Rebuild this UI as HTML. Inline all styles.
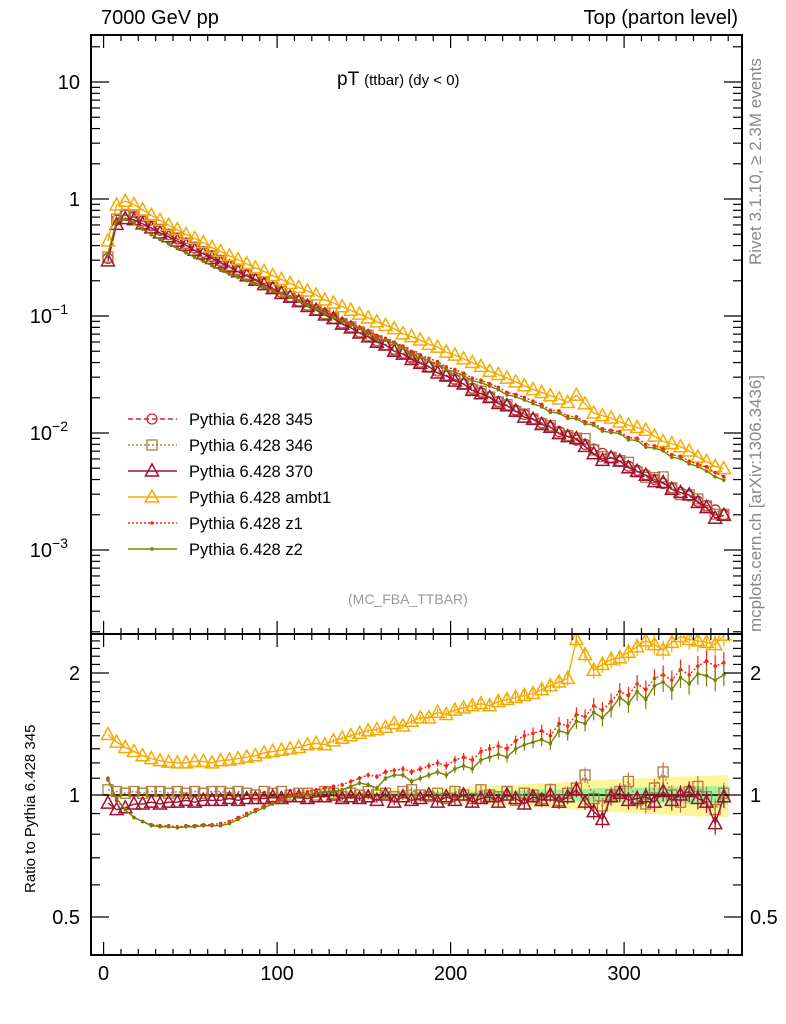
<!DOCTYPE html>
<html><head><meta charset="utf-8"><style>
body{margin:0;background:#fff;}
svg{display:block;font-family:"Liberation Sans",sans-serif;}
</style></head><body>
<svg id="c" width="786" height="1024" viewBox="0 0 786 1024" xmlns="http://www.w3.org/2000/svg"></svg>
<script>
const binCenters=[];for(let i=0;i<72;i++)binCenters.push(2.5+5*i);
const ref345=[0.31,0.66,0.73,0.70,0.645,0.59,0.54,0.495,0.455,0.415,0.38,0.35,0.32,0.293,0.268,0.246,0.225,0.206,0.189,0.173,0.159,0.146,0.134,0.123,0.113,0.103,0.095,0.087,0.080,0.073,0.067,0.0615,0.0565,0.052,0.0477,0.0438,0.0402,0.0369,0.0339,0.0311,0.0286,0.0262,0.0241,0.0221,0.0203,0.0186,0.0171,0.0157,0.0144,0.0132,0.0122,0.0112,0.0103,0.0094,0.0087,0.0080,0.0073,0.0067,0.0062,0.0057,0.0052,0.0048,0.0044,0.0040,0.0037,0.0034,0.0031,0.0029,0.0026,0.0024,0.0022,0.0020];
const ratio346=[1.03,1.02,1.01,1.02,1.01,1.02,1.02,1.01,1.02,1.01,1.02,1.01,1.02,1.02,1.01,1.02,1.01,1.00,1.02,1.01,1.02,1.00,1.01,1.01,1.00,1.02,1.01,0.99,1.01,1.00,1.02,1.00,1.01,0.99,1.02,1.03,1.00,0.99,1.01,0.98,1.02,1.00,0.98,1.03,1.00,0.99,1.02,0.97,1.01,1.00,0.98,1.03,0.97,1.01,1.04,1.12,0.98,0.94,1.00,1.02,1.08,0.97,0.95,1.04,1.14,1.00,0.96,1.02,1.05,0.99,0.92,1.01];
const ratio370=[0.955,0.92,0.93,0.95,0.95,0.96,0.95,0.96,0.96,0.97,0.96,0.97,0.97,0.97,0.98,0.97,0.98,0.98,0.98,0.99,0.98,0.99,0.99,0.98,0.99,0.99,1.00,0.98,0.99,0.98,0.99,0.97,1.00,0.96,0.99,0.97,0.98,1.00,0.96,0.99,0.97,1.00,0.96,0.98,0.99,0.96,1.00,0.98,0.95,0.99,0.97,1.00,0.96,0.99,1.03,0.96,0.91,0.87,0.99,1.01,0.97,0.98,0.99,0.96,1.02,0.97,1.00,1.02,0.98,0.96,0.85,0.99];
const ratioAmbt1=[1.41,1.35,1.31,1.28,1.25,1.23,1.215,1.205,1.20,1.20,1.21,1.21,1.20,1.215,1.22,1.23,1.24,1.25,1.27,1.28,1.29,1.30,1.31,1.33,1.34,1.33,1.36,1.38,1.40,1.42,1.44,1.45,1.47,1.50,1.48,1.52,1.55,1.55,1.60,1.58,1.62,1.64,1.66,1.68,1.66,1.70,1.72,1.74,1.76,1.78,1.82,1.86,1.90,1.94,2.42,2.22,2.03,2.10,2.16,2.18,2.25,2.32,2.40,2.35,2.28,2.38,2.46,2.42,2.40,2.38,2.35,2.48];
const ratioZ1=[1.10,0.97,0.92,0.88,0.86,0.845,0.84,0.84,0.835,0.84,0.84,0.845,0.845,0.85,0.86,0.88,0.90,0.92,0.94,0.96,0.98,1.00,1.01,1.02,1.03,1.04,1.05,1.06,1.08,1.10,1.12,1.11,1.14,1.15,1.16,1.14,1.16,1.18,1.20,1.18,1.22,1.24,1.22,1.28,1.30,1.32,1.30,1.36,1.40,1.42,1.44,1.40,1.50,1.48,1.58,1.56,1.66,1.62,1.70,1.80,1.76,1.88,1.82,1.94,1.98,1.92,2.04,1.98,2.08,2.14,2.08,2.12];
const ratioZ2=[1.09,0.98,0.92,0.88,0.86,0.84,0.835,0.835,0.83,0.835,0.835,0.84,0.84,0.84,0.85,0.87,0.89,0.91,0.93,0.95,0.97,0.99,1.00,1.00,1.01,1.02,1.02,1.03,1.05,1.07,1.06,1.04,1.10,1.12,1.12,1.08,1.10,1.12,1.14,1.12,1.16,1.18,1.16,1.22,1.24,1.26,1.24,1.30,1.33,1.35,1.37,1.34,1.44,1.42,1.52,1.50,1.60,1.55,1.63,1.74,1.68,1.80,1.72,1.86,1.90,1.82,1.95,1.88,1.99,1.97,1.92,1.98];
const refErr=[0.004,0.004,0.004,0.004,0.004,0.004,0.004,0.004,0.005,0.005,0.005,0.005,0.005,0.005,0.006,0.006,0.006,0.006,0.007,0.007,0.007,0.008,0.008,0.008,0.009,0.009,0.010,0.010,0.011,0.011,0.012,0.012,0.013,0.013,0.014,0.015,0.015,0.016,0.017,0.018,0.019,0.020,0.021,0.022,0.023,0.024,0.025,0.026,0.027,0.028,0.030,0.031,0.032,0.034,0.035,0.036,0.038,0.039,0.040,0.041,0.042,0.043,0.044,0.045,0.046,0.047,0.048,0.049,0.050,0.050,0.051,0.052];
const xTicks=[0,100,200,300];
const mainTickLabels=["10","1","10","10","10"];
const mainTickExp=[null,null,"−1","−2","−3"];
const mainTickVals=[10,1,0.1,0.01,0.001];
const ratioTickVals=[2,1,0.5];
const ratioTickLabels=["2","1","0.5"];

const S=document.getElementById('c');const NS='http://www.w3.org/2000/svg';
function mk(t,a,p){const e=document.createElementNS(NS,t);for(const k in a)e.setAttribute(k,a[k]);(p||S).appendChild(e);return e;}
const XL=91,XR=742,MT=35,MB=634,RB=955;
const X=v=>103.6+v*1.735;
const Y=v=>199-117*Math.log10(v);
const R=v=>795-122*Math.log2(v);

const bandG=mk('g',{});


function bandPath(f){let up='',dn='';for(let i=0;i<72;i++){const x0=X(binCenters[i]-2.5),x1=X(binCenters[i]+2.5);up+=(i?'L':'M')+x0+','+R(1+f*refErr[i])+'L'+x1+','+R(1+f*refErr[i]);}
 for(let i=71;i>=0;i--){const x0=X(binCenters[i]-2.5),x1=X(binCenters[i]+2.5);dn+='L'+x1+','+R(1-f*refErr[i])+'L'+x0+','+R(1-f*refErr[i]);}return up+dn+'Z';}
mk('path',{d:bandPath(2.3),fill:'#fff59a'},bandG);
mk('path',{d:bandPath(1),fill:'#9df59a'},bandG);
const refLine=mk('line',{x1:X(0),x2:X(360),y1:R(1),y2:R(1),stroke:'#000','stroke-width':1.5});



const series=[
 {name:'Pythia 6.428 345',key:'s345',color:'#c8283c',dash:'5,3',marker:'circle',ratio:null},
 {name:'Pythia 6.428 346',key:'s346',color:'#b07a40',dash:'2,2',marker:'square',ratio:ratio346},
 {name:'Pythia 6.428 370',key:'s370',color:'#a01030',dash:'',marker:'tri',ratio:ratio370},
 {name:'Pythia 6.428 ambt1',key:'ambt1',color:'#f5aa00',dash:'',marker:'tri',ratio:ratioAmbt1},
 {name:'Pythia 6.428 z1',key:'z1',color:'#ff2010',dash:'2,2',marker:'dot',ratio:ratioZ1},
 {name:'Pythia 6.428 z2',key:'z2',color:'#7a8000',dash:'',marker:'dot',ratio:ratioZ2}
];
function marker(type,x,y,c,g){
 if(type==='circle')mk('circle',{cx:x,cy:y,r:5,fill:'none',stroke:c,'stroke-width':1.3},g);
 else if(type==='square')mk('rect',{x:x-5,y:y-5,width:10,height:10,fill:'none',stroke:c,'stroke-width':1.3},g);
 else if(type==='tri')mk('path',{d:`M${x},${y-7}L${x+6.5},${y+5}L${x-6.5},${y+5}Z`,fill:'none',stroke:c,'stroke-width':1.5},g);
 else mk('circle',{cx:x,cy:y,r:1.8,fill:c},g);
}
const clipM=mk('clipPath',{id:'cm'});mk('rect',{x:XL,y:MT,width:XR-XL,height:MB-MT},clipM);
const clipR=mk('clipPath',{id:'cr'});mk('rect',{x:XL,y:MB,width:XR-XL,height:RB-MB},clipR);
series.forEach(s=>{
 const vals=ref345.map((v,i)=>s.ratio?v*s.ratio[i]:v);
 const g=mk('g',{'clip-path':'url(#cm)'});
 
 
 mk('polyline',{points:vals.map((v,i)=>X(binCenters[i])+','+Y(v)).join(' '),fill:'none',stroke:s.color,'stroke-width':1.4,'stroke-dasharray':s.dash},g);
 vals.forEach((v,i)=>marker(s.marker,X(binCenters[i]),Y(v),s.color,g));
 if(s.ratio){
  const gr=mk('g',{'clip-path':'url(#cr)'});
  
  
  mk('polyline',{points:s.ratio.map((v,i)=>X(binCenters[i])+','+R(v)).join(' '),fill:'none',stroke:s.color,'stroke-width':1.4,'stroke-dasharray':s.dash},gr);
  s.ratio.forEach((v,i)=>{const e=v*refErr[i]*1.2;
   if(i>25)mk('line',{x1:X(binCenters[i]),x2:X(binCenters[i]),y1:R(v+e),y2:R(v-e),stroke:s.color,'stroke-width':1.2},gr);
   marker(s.marker,X(binCenters[i]),R(v),s.color,gr);});
 }
});
mk('rect',{x:XL,y:MT,width:XR-XL,height:MB-MT,fill:'none',stroke:'#000','stroke-width':2});
mk('rect',{x:XL,y:MB,width:XR-XL,height:RB-MB,fill:'none',stroke:'#000','stroke-width':2});
for(let v=0;v<=360;v+=10){const maj=v%100===0,L=maj?13:6,x=X(v);
 [[MT,1],[MB,-1],[MB,1],[RB,-1]].forEach(([y,d])=>mk('line',{x1:x,x2:x,y1:y,y2:y+d*L,stroke:'#000','stroke-width':1.2}));}
xTicks.forEach(v=>{const t=mk('text',{x:X(v),y:980,'font-size':20,'text-anchor':'middle'});t.textContent=v;
 
 });
for(let d=-4;d<=1;d++)for(let m=1;m<=9;m++){const v=m*Math.pow(10,d),y=Y(v);if(y<MT||y>MB)continue;const L=m===1?18:9;
 mk('line',{x1:XL,x2:XL+L,y1:y,y2:y,stroke:'#000','stroke-width':1.2});mk('line',{x1:XR,x2:XR-L,y1:y,y2:y,stroke:'#000','stroke-width':1.2});}
mainTickVals.forEach((v,i)=>{const t=mk('text',{x:mainTickExp[i]?68:80,y:Y(v)+7,'font-size':20,'text-anchor':'end'});t.textContent=mainTickLabels[i];
 
 
 if(mainTickExp[i]){const e=mk('tspan',{dy:-9,'font-size':14},t);e.textContent=mainTickExp[i];}});
for(let k=4;k<=25;k++){const v=k/10,y=R(v);if(y<MB||y>RB)continue;const maj=(k===5||k===10||k===20),L=maj?18:9;
 mk('line',{x1:XL,x2:XL+L,y1:y,y2:y,stroke:'#000','stroke-width':1.2});mk('line',{x1:XR,x2:XR-L,y1:y,y2:y,stroke:'#000','stroke-width':1.2});}
ratioTickVals.forEach((v,i)=>{const t=mk('text',{x:80,y:R(v)+7,'font-size':20,'text-anchor':'end'});t.textContent=ratioTickLabels[i];
 
 
 const t2=mk('text',{x:750,y:R(v)+7,'font-size':20});t2.textContent=ratioTickLabels[i];
 
 });
const legYs=[419,445,471,497,523,549];
series.forEach((s,i)=>{const g=mk('g',{});
 
 
 const y=legYs[i];mk('line',{x1:128,x2:177,y1:y,y2:y,stroke:s.color,'stroke-width':1.4,'stroke-dasharray':s.dash},g);
 marker(s.marker,152,y,s.color,g);
 const t=mk('text',{x:189,y:y+6,'font-size':16.5},g);t.textContent=s.name;});
</script>
<div style="position:absolute;left:0;top:0;width:786px;height:1024px;pointer-events:none;font-family:'Liberation Sans',sans-serif;">
<div style="position:absolute;left:101px;top:7px;font-size:20px;">7000 GeV pp</div>
<div style="position:absolute;right:48px;top:7px;font-size:20px;">Top (parton level)</div>
<div style="position:absolute;left:337px;top:69px;font-size:19px;">pT <span style="font-size:15px">(ttbar) (dy &lt; 0)</span></div>
<div style="position:absolute;left:348px;top:591px;font-size:14px;color:#999;">(MC_FBA_TTBAR)</div>
<div style="position:absolute;left:746px;top:35px;font-size:17px;color:#888;transform-origin:0 0;transform:translate(0,230px) rotate(-90deg);white-space:nowrap;">Rivet 3.1.10, ≥ 2.3M events</div>
<div style="position:absolute;left:746px;top:345px;font-size:17px;color:#888;transform-origin:0 0;transform:translate(0,287px) rotate(-90deg);white-space:nowrap;">mcplots.cern.ch [arXiv:1306.3436]</div>
<div style="position:absolute;left:22px;top:893px;font-size:15px;transform-origin:0 0;transform:rotate(-90deg);white-space:nowrap;">Ratio to Pythia 6.428 345</div>
</div>
</body></html>
